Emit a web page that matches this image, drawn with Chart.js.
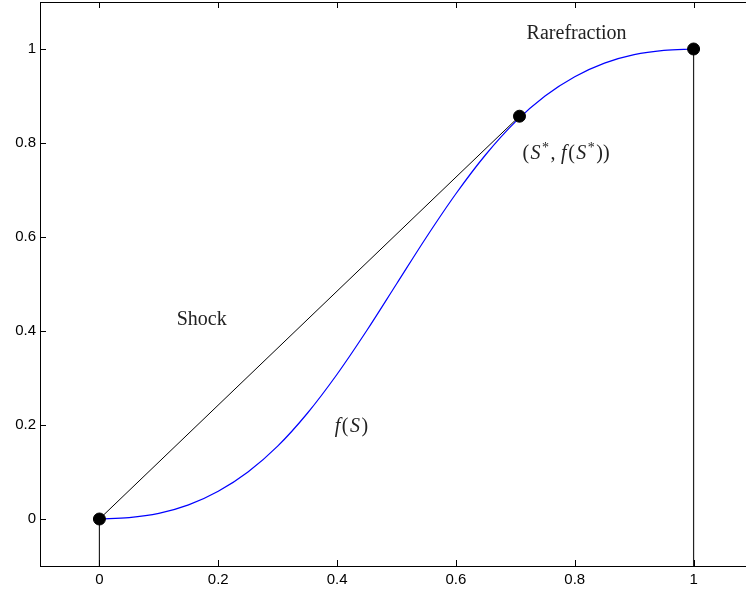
<!DOCTYPE html>
<html>
<head>
<meta charset="utf-8">
<script src="https://cdn.jsdelivr.net/npm/chart.js@4.4.1/dist/chart.umd.min.js"></script>
<style>
  html, body { margin: 0; padding: 0; background: #fff; overflow: hidden; }
  #wrap { position: relative; width: 746px; height: 590px; overflow: hidden; }
  /* the dots make Chart.js keep 7px round the plot, so shift the canvas up */
  #chart { position: absolute; left: 0; top: -5px; }
</style>
</head>
<body>
<div id="wrap"><canvas id="chart" width="760" height="595"></canvas></div>
<script>
// saturation values and fractional flow
const sValues = [0, 0.05, 0.1, 0.15, 0.2, 0.25, 0.3, 0.35, 0.4, 0.45, 0.5,
                 0.55, 0.6, 0.65, 0.7, 0.75, 0.8, 0.85, 0.9, 0.95, 1];
const fValues = [0, 0.003, 0.012, 0.030, 0.059, 0.100, 0.155, 0.225, 0.308, 0.401, 0.5,
                 0.599, 0.692, 0.775, 0.845, 0.900, 0.941, 0.970, 0.988, 0.997, 1];

// tangent point S*
const sStar = 0.707;
const fStar = 0.857;

const xTicks = [0, 0.2, 0.4, 0.6, 0.8, 1];
const yTicks = [0, 0.2, 0.4, 0.6, 0.8, 1];

const xRange = [-0.1, 1.1];
const yRange = [-0.1, 1.1];

// text annotations (data coords of left/baseline)
const notes = [
  { x: 0.719, y: 1.021, parts: [{ t: 'Rarefraction' }] },
  { x: 0.130, y: 0.413, parts: [{ t: 'Shock' }] },
  { x: 0.396, y: 0.185, math: true, parts: [{ t: 'f', it: true }, { t: '(' }, { t: 'S', it: true }, { t: ')' }] },
  { x: 0.712, y: 0.766, math: true, parts: [
      { t: '(' }, { t: 'S', it: true }, { t: '*', sup: true }, { t: ',' },
      { t: 'f', it: true }, { t: '(' }, { t: 'S', it: true }, { t: '*', sup: true }, { t: '))' }] }
];

const curve = sValues.map((s, i) => ({ x: s, y: fValues[i] }));
const shock = [{ x: 0, y: 0 }, { x: sStar, y: fStar }];
const stemLeft = [{ x: 0, y: yRange[0] }, { x: 0, y: 0 }];
const stemRight = [{ x: 1, y: yRange[0] }, { x: 1, y: 1 }];
const dots = [{ x: 0, y: 0 }, { x: sStar, y: fStar }, { x: 1, y: 1 }];

const serif = '"Liberation Serif", "Times New Roman", serif';

const framePlugin = {
  id: 'frame',
  afterDraw(chart) {
    const { ctx, chartArea: a, scales } = chart;
    ctx.save();
    ctx.strokeStyle = '#000';
    ctx.lineWidth = 1;
    ctx.strokeRect(a.left + 0.5, a.top + 0.5, a.right - a.left, a.bottom - a.top);
    // inward ticks (right side falls outside the window anyway)
    ctx.beginPath();
    xTicks.forEach(v => {
      const px = Math.round(scales.x.getPixelForValue(v)) + 0.5;
      ctx.moveTo(px, a.bottom); ctx.lineTo(px, a.bottom - 6);
      ctx.moveTo(px, a.top); ctx.lineTo(px, a.top + 6);
    });
    yTicks.forEach(v => {
      const py = Math.round(scales.y.getPixelForValue(v)) + 0.5;
      ctx.moveTo(a.left, py); ctx.lineTo(a.left + 6, py);
    });
    ctx.stroke();

    // annotations
    ctx.fillStyle = '#222';
    ctx.textBaseline = 'alphabetic';
    notes.forEach(n => {
      let px = scales.x.getPixelForValue(n.x);
      const py = scales.y.getPixelForValue(n.y);
      n.parts.forEach(p => {
        const size = p.sup ? 14 : 20;
        ctx.font = (p.it ? 'italic ' : '') + size + 'px ' + serif;
        ctx.fillText(p.t, px, p.sup ? py - 7 : py);
        px += ctx.measureText(p.t).width + (n.math ? 1.5 : 0);
        if (p.t === ',') px += 4;
      });
    });
    ctx.restore();
  }
};

const thinLine = (data, color, width, order) => ({
  data: data,
  borderColor: color,
  borderWidth: width,
  pointRadius: 0,
  order: order
});

// drop the extra room Chart.js keeps for end tick labels
const noPad = s => { s.paddingTop = 0; s.paddingBottom = 0; s.paddingLeft = 0; s.paddingRight = 0; };

new Chart(document.getElementById('chart'), {
  type: 'line',
  data: {
    datasets: [
      Object.assign(thinLine(curve, '#0000ff', 1.2, 3), { cubicInterpolationMode: 'monotone' }),
      thinLine(shock, '#000', 1, 2),
      thinLine(stemLeft, '#222', 1.2, 2),
      thinLine(stemRight, '#222', 1.2, 2),
      {
        type: 'scatter',
        data: dots,
        backgroundColor: '#000',
        borderColor: '#000',
        pointRadius: 6,
        pointBorderWidth: 1,
        order: 1
      }
    ]
  },
  options: {
    responsive: false,
    animation: false,
    layout: { padding: 0 },
    plugins: { legend: { display: false }, tooltip: { enabled: false } },
    scales: {
      x: {
        type: 'linear',
        min: xRange[0],
        max: xRange[1],
        afterBuildTicks: s => { s.ticks = xTicks.map(v => ({ value: v })); },
        afterFit: s => { s.height = 24; noPad(s); },
        grid: { display: false, drawTicks: false },
        border: { display: false },
        ticks: {
          padding: 5,
          color: '#000',
          font: { family: '"Liberation Sans", Arial, sans-serif', size: 15 },
          maxRotation: 0,
          callback: v => String(v)
        }
      },
      y: {
        type: 'linear',
        min: yRange[0],
        max: yRange[1],
        afterBuildTicks: s => { s.ticks = yTicks.map(v => ({ value: v })); },
        afterFit: s => { s.width = 40; noPad(s); },
        grid: { display: false, drawTicks: false },
        border: { display: false },
        ticks: {
          padding: 4,
          color: '#000',
          font: { family: '"Liberation Sans", Arial, sans-serif', size: 15 },
          callback: v => String(v)
        }
      }
    }
  },
  plugins: [framePlugin]
});
</script>
</body>
</html>
